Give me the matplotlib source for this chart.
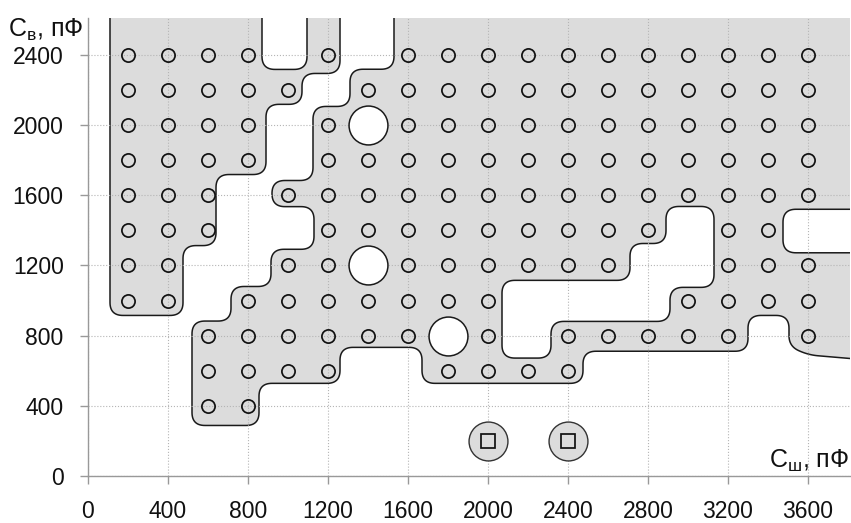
import numpy as np
import matplotlib
matplotlib.use("Agg")
import matplotlib.pyplot as plt

plt.rcParams['font.family'] = ['Liberation Sans', 'DejaVu Sans']
plt.rcParams['mathtext.fontset'] = 'custom'
plt.rcParams['mathtext.rm'] = 'Liberation Sans'

# measured points (open circles), one list of C_sh values per C_v row
row_y = [2400, 2200, 2000, 1800, 1600, 1400, 1200, 1000, 800, 600, 400]
row_x = [
    [200, 400, 600, 800, 1200, 1600, 1800, 2000, 2200, 2400, 2600, 2800, 3000, 3200, 3400, 3600],
    [200, 400, 600, 800, 1000, 1400, 1600, 1800, 2000, 2200, 2400, 2600, 2800, 3000, 3200, 3400, 3600],
    [200, 400, 600, 800, 1200, 1600, 1800, 2000, 2200, 2400, 2600, 2800, 3000, 3200, 3400, 3600],
    [200, 400, 600, 800, 1200, 1400, 1600, 1800, 2000, 2200, 2400, 2600, 2800, 3000, 3200, 3400, 3600],
    [200, 400, 600, 1000, 1200, 1400, 1600, 1800, 2000, 2200, 2400, 2600, 2800, 3000, 3200, 3400, 3600],
    [200, 400, 600, 1200, 1400, 1600, 1800, 2000, 2200, 2400, 2600, 2800, 3200, 3400],
    [200, 400, 1000, 1200, 1600, 1800, 2000, 2200, 2400, 2600, 3200, 3400, 3600],
    [200, 400, 800, 1000, 1200, 1400, 1600, 1800, 2000, 3000, 3200, 3400, 3600],
    [600, 800, 1000, 1200, 1400, 1600, 2000, 2400, 2600, 2800, 3000, 3200, 3600],
    [600, 800, 1000, 1200, 1800, 2000, 2200, 2400],
    [600, 800],
]

# big white circles (excluded points)
hole_pts_x = [1400, 1400, 1800]
hole_pts_y = [2000, 1200, 800]

# square points inside grey circles
sq_x = [2000, 2400]
sq_y = [200, 200]

# outline of the grey areas (corner points, rounded when drawn)
left_x = [110, 870, 870, 1095, 1095, 1260, 1260, 1070, 1070, 890, 890, 640, 640, 475, 475, 110]
left_y = [2750, 2750, 2317, 2317, 2750, 2750, 2294, 2294, 2118, 2118, 1718, 1718, 1313, 1313, 915, 915]

main_x = [1530, 1530, 1310, 1310, 1125, 1125, 920, 920, 1130, 1130, 915, 915, 715, 715, 520, 520,
          855, 855, 1260, 1260, 1670, 1670, 2475, 2475, 3300, 3300, 3505, 3505, 3600, 3910,
          3910, 3475, 3475, 3910, 3910]
main_y = [2750, 2318, 2318, 2106, 2106, 1684, 1684, 1535, 1535, 1292, 1292, 1080, 1080, 883, 883, 288,
          288, 528, 528, 733, 733, 528, 528, 711, 711, 915, 915, 740, 690, 660,
          1272, 1272, 1520, 1520, 2750]

gap_x = [2070, 2070, 2315, 2315, 2910, 2910, 3130, 3130, 2890, 2890, 2710, 2710]
gap_y = [1115, 672, 672, 881, 881, 1075, 1075, 1536, 1536, 1325, 1325, 1115]

fig = plt.figure(figsize=(8.51, 5.23), dpi=100)
ax = fig.add_axes([88 / 851, 47 / 523, 762 / 851, 458 / 523])
ax.set_xlim(0, 3810)
ax.set_ylim(0, 2610)


def rounded(xs, ys, r=13, n=16):
    # round polygon corners in pixel space so the curves look the same in x and y
    pts = ax.transData.transform(np.column_stack([xs, ys]))
    out = []
    m = len(pts)
    t = np.linspace(0, 1, n)[:, None]
    for i in range(m):
        p0, p1, p2 = pts[i - 1], pts[i], pts[(i + 1) % m]
        d1 = p1 - p0
        d2 = p2 - p1
        l1 = np.hypot(*d1)
        l2 = np.hypot(*d2)
        rr = min(r, l1 / 2, l2 / 2)
        a = p1 - d1 / l1 * rr
        b = p1 + d2 / l2 * rr
        out.append((1 - t) ** 2 * a + 2 * (1 - t) * t * p1 + t ** 2 * b)
    out = ax.transData.inverted().transform(np.vstack(out))
    return out[:, 0], out[:, 1]


fill_c = '#dcdcdc'
edge_c = '#1a1a1a'

lx, ly = rounded(left_x, left_y)
ax.fill(lx, ly, facecolor=fill_c, edgecolor=edge_c, lw=1.1, zorder=1)
mx, my = rounded(main_x, main_y)
ax.fill(mx, my, facecolor=fill_c, edgecolor=edge_c, lw=1.1, zorder=1)
gx, gy = rounded(gap_x, gap_y)
ax.fill(gx, gy, facecolor='white', edgecolor=edge_c, lw=1.1, zorder=1.2)

for y, xs in zip(row_y, row_x):
    ax.plot(xs, [y] * len(xs), 'o', ms=9.5, mfc='none', mec='#111111', mew=1.25, zorder=3)

ax.plot(hole_pts_x, hole_pts_y, 'o', ms=28, mfc='white', mec=edge_c, mew=1.1, zorder=3)
ax.plot(sq_x, sq_y, 'o', ms=28, mfc=fill_c, mec='#333333', mew=1.0, zorder=3)
ax.plot(sq_x, sq_y, 's', ms=9.5, mfc='none', mec='#111111', mew=1.25, zorder=4)

ax.set_xticks([0, 400, 800, 1200, 1600, 2000, 2400, 2800, 3200, 3600])
ax.set_yticks([0, 400, 800, 1200, 1600, 2000, 2400])
ax.set_axisbelow('line')
ax.grid(True, ls=':', color='#b5b5b5', lw=0.8)

for s in ['top', 'right']:
    ax.spines[s].set_visible(False)
for s in ['left', 'bottom']:
    ax.spines[s].set_color('#999999')
    ax.spines[s].set_linewidth(1.0)
ax.tick_params(direction='out', length=5.5, width=1, color='#999999', pad=12,
               labelsize=16.5, labelcolor='#111111')

fig.text(8 / 851, 1 - 37 / 523, r'C$_\mathregular{в}$, пФ', fontsize=18, color='#111111',
         ha='left', va='baseline')
fig.text(849 / 851, 1 - 468 / 523, r'C$_\mathregular{ш}$, пФ', fontsize=18, color='#111111',
         ha='right', va='baseline')

fig.savefig('out.png', dpi=100)
